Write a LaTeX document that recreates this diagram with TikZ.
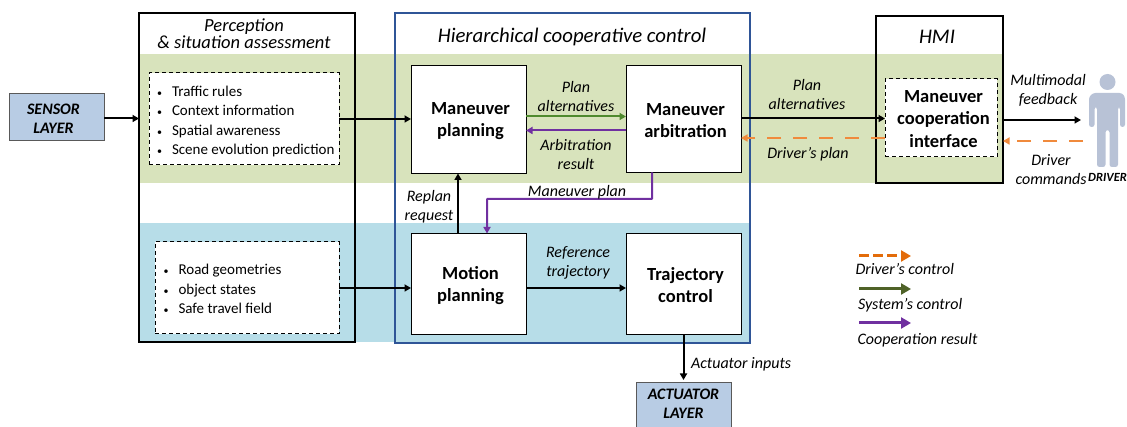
\documentclass[tikz,border=0pt]{standalone}
\usepackage{fontspec}
\setmainfont{Carlito}
\usetikzlibrary{arrows.meta,calc}
\definecolor{bandgreen}{HTML}{D8E3BC}
\definecolor{bandblue}{HTML}{B7DDE8}
\definecolor{layerblue}{HTML}{B8CCE4}
\definecolor{ctrlblue}{HTML}{2F5597}
\definecolor{sysgreen}{HTML}{4F8A2E}
\definecolor{legendgreen}{HTML}{4F6228}
\definecolor{purp}{HTML}{7030A0}
\definecolor{orng}{HTML}{F08A3C}
\definecolor{legendorng}{HTML}{E36C0A}
\definecolor{person}{HTML}{B8C2D6}
\tikzset{
  x=1pt,y=-1pt,
  every node/.style={inner sep=0pt,outer sep=0pt},
  lab/.style={font=\fontsize{16}{19}\selectfont\itshape,align=center},
  head/.style={font=\fontsize{20.8}{20}\selectfont\itshape,align=center},
  blk/.style={draw=black,line width=1pt,fill=white,font=\fontsize{18.5}{22}\selectfont\bfseries,align=center},
  frame/.style={draw=black,line width=1.6pt},
  dbox/.style={draw=black,line width=1pt,dash pattern=on 4pt off 3pt,fill=white},
  layer/.style={draw=black!65,line width=1pt,fill=layerblue,font=\fontsize{16}{19}\selectfont\bfseries\itshape,align=center},
  lst/.style={font=\fontsize{15}{19.3}\selectfont,align=left},
  arr/.style={-{Triangle[length=6.5pt,width=7pt]},line width=2pt,draw=black},
  sysarr/.style={arr,draw=sysgreen},
  purarr/.style={arr,draw=purp},
  orarr/.style={arr,draw=orng,dash pattern=on 14pt off 12pt},
  legarr/.style={-{Triangle[length=10pt,width=11pt]},line width=3pt},
}
\newcommand{\bl}{\makebox[15pt][l]{\fontsize{10}{10}\selectfont\textbullet}}
\newcommand{\btxt}[2]{\rule{0pt}{15.5pt}\hspace*{4pt}#1\\\hspace*{4pt}#2}
\begin{document}
\begin{tikzpicture}
\useasboundingbox (0,0) rectangle (1127,427);
% bands
\fill[bandgreen] (140,54) rectangle (1003,183);
\fill[bandblue] (140,223) rectangle (750,342);
% frames
\node[frame,minimum width=216pt,minimum height=329pt] (perc) at (247,177.5) {};
\node[draw=ctrlblue,line width=2.6pt,minimum width=355pt,minimum height=330pt] (ctrl) at (572.5,178) {};
\node[frame,minimum width=127pt,minimum height=167pt] (hmi) at (939.5,99.5) {};
\node[head,font=\fontsize{18.5}{15.5}\selectfont\itshape] (perct) at (244,33.5) {Perception\\\& situation assessment};
\node[head] (ctrlt) at (572,37) {Hierarchical cooperative control};
\node[head] (hmit) at (937,36.5) {HMI};
% layers
\node[layer,minimum width=95pt,minimum height=47pt] (sensor) at (56.5,117.5) {\rule{0pt}{14pt}SENSOR\hspace*{6pt}\\LAYER\hspace*{6pt}};
\node[layer,minimum width=95pt,minimum height=46pt,anchor=north] (act) at (683.5,383) {ACTUATOR\\LAYER\rule[-5pt]{0pt}{0pt}};
% dashed lists
\node[dbox,minimum width=190pt,minimum height=92pt] (d1) at (244,119) {};
\node[lst,anchor=west] (d1t) at (157,121.5) {\bl Traffic rules\\\bl Context information\\\bl Spatial awareness\\\bl Scene evolution prediction};
\node[dbox,minimum width=184pt,minimum height=92pt] (d2) at (247,288) {};
\node[lst,anchor=west] (d2t) at (163.5,289) {\bl Road geometries\\\bl object states\\\bl Safe travel field};
% blocks
\node[blk,minimum width=115pt,minimum height=108pt] (mp) at (468.5,119.5) {\btxt{Maneuver}{planning}};
\node[blk,minimum width=115pt,minimum height=107pt] (ma) at (683.5,119) {\btxt{Maneuver}{arbitration}};
\node[blk,minimum width=115pt,minimum height=101pt] (mo) at (468.5,284) {\btxt{Motion}{planning}};
\node[blk,minimum width=115pt,minimum height=101pt] (tc) at (683.5,284) {\btxt{Trajectory}{control}};
\node[dbox,minimum width=112pt,minimum height=78pt] (mci) at (941,118) {};
\node[font=\fontsize{18.5}{22.5}\selectfont\bfseries,align=center] (mcit) at (943.5,119) {Maneuver\\cooperation\\interface};
% driver figure
\fill[person] (1107.5,82) circle (8);
\fill[person,rounded corners=2.5pt] (1093,93) -- (1122,93) -- (1125,97) -- (1125,127) -- (1120,127) -- (1120,107) -- (1118,107) -- (1118,167) -- (1109.5,167) -- (1109.5,130) -- (1105.5,130) -- (1105.5,167) -- (1097,167) -- (1097,107) -- (1094.5,107) -- (1094.5,127) -- (1089,127) -- (1089,97) -- cycle;
\node[font=\fontsize{12.5}{12}\selectfont\bfseries\itshape] (drv) at (1107.5,177) {DRIVER};
\coordinate (drvin) at (1081,120);
\coordinate (drvout) at (1083,141);
% connectors
\draw[arr] ([yshift=-1pt]sensor.east) -- (perc.west |- 0,118.5);
\draw[arr] (d1.east |- 0,119) -- (mp.west |- 0,119);
\draw[arr] (d2.east) -- (mo.west |- d2.east);
\draw[sysarr] (mp.east |- 0,116.5) -- (ma.west |- 0,116.5);
\draw[purarr] (ma.west |- 0,130.5) -- (mp.east |- 0,130.5);
\draw[arr] (mo.north -| 458,0) -- (mp.south -| 458,0);
\draw[purarr,rounded corners=0.5pt] (ma.south -| 652,0) -- (652,199) -- (487,199) -- (mo.north -| 487,0);
\draw[arr] (mo.east |- 0,288) -- (tc.west |- 0,288);
\draw[arr] (tc.south) -- ([yshift=3pt]act.north);
\draw[arr] (ma.east |- 0,118.5) -- (mci.west |- 0,118.5);
\draw[orarr] (mci.west |- 0,138) -- (ma.east |- 0,138);
\draw[arr] (hmi.east |- drvin) -- (drvin);
\draw[orarr] (drvout) -- (hmi.east |- drvout);
% labels
\node[lab] (l1) at (576,96.5) {Plan\\alternatives};
\node[lab] (l2) at (576,154.5) {Arbitration\\result};
\node[lab] (l3) at (577,192) {Maneuver plan};
\node[lab] (l4) at (429,206.5) {Replan\\request};
\node[lab] (l5) at (578,263) {Reference\\trajectory};
\node[lab,anchor=west] (l6) at (691,364) {Actuator inputs};
\node[lab] (l7) at (807,95) {Plan\\alternatives};
\node[lab] (l8) at (808,154) {Driver's plan};
\node[lab] (l9) at (1048,90.5) {Multimodal\\feedback};
\node[lab] (l10) at (1051,170) {Driver\\commands};
% legend
\coordinate (la1) at (859,256); \coordinate (lb1) at (911,256);
\coordinate (la2) at (859,289); \coordinate (lb2) at (911,289);
\coordinate (la3) at (859,323); \coordinate (lb3) at (911,323);
\draw[legarr,draw=legendorng,dash pattern=on 10pt off 4pt] (la1) -- (lb1);
\draw[legarr,draw=legendgreen] (la2) -- (lb2);
\draw[legarr,draw=purp] (la3) -- (lb3);
\node[lab,anchor=west] (k1) at (855.5,269) {Driver's control};
\node[lab,anchor=west] (k2) at (858,305) {System's control};
\node[lab,anchor=west] (k3) at (857.5,340) {Cooperation result};
\end{tikzpicture}
\end{document}
